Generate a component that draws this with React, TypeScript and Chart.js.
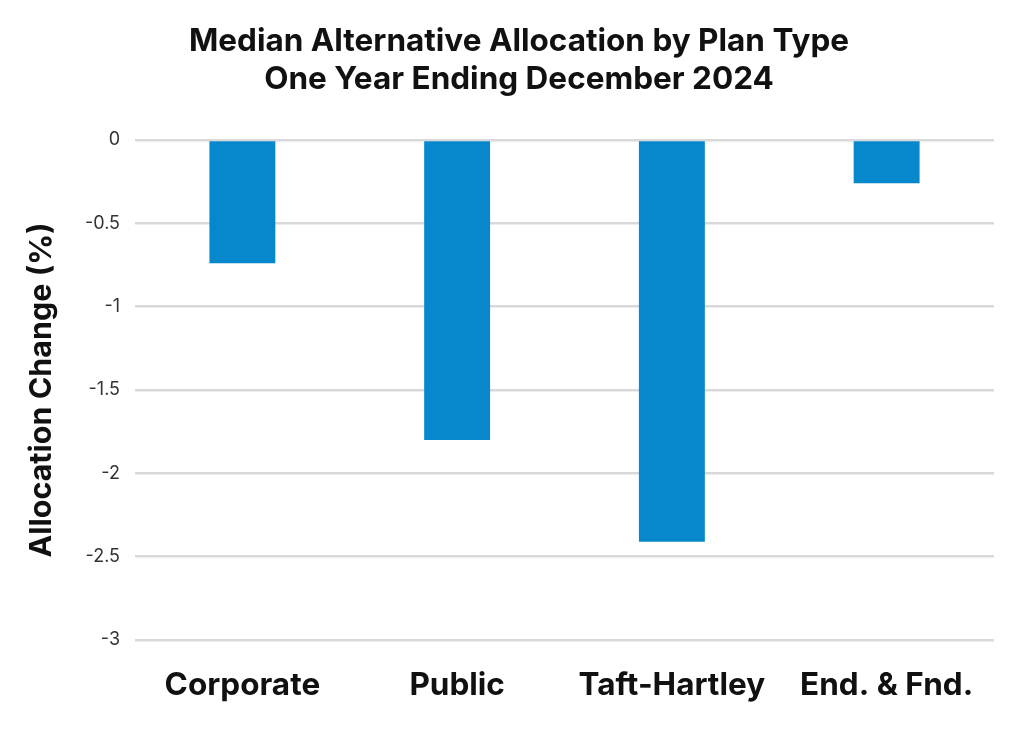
import React, { useEffect, useRef } from "react";
import { Chart, registerables } from "chart.js";

Chart.register(...registerables);

const categories = ["Corporate", "Public", "Taft-Hartley", "End. & Fnd."];
const allocationChange = [-0.74, -1.8, -2.41, -0.26];
const titleLines = ["Median Alternative Allocation by Plan Type", "One Year Ending December 2024"];
const yAxisTitle = "Allocation Change (%)";

const FONT = "Inter, 'Noto Sans', sans-serif";

export default function App() {
  const ref = useRef<HTMLCanvasElement | null>(null);
  useEffect(() => {
    if (!ref.current) return;
    const chart = new Chart(ref.current, {
      type: "bar",
      data: {
        labels: categories,
        datasets: [
          {
            data: allocationChange,
            backgroundColor: "#0788cc",
            borderWidth: 0,
            categoryPercentage: 1,
            barPercentage: 0.307,
          },
        ],
      },
      options: {
        animation: false,
        responsive: true,
        maintainAspectRatio: false,
        layout: { padding: { left: 44, right: 30, top: 23, bottom: 0 } },
        plugins: {
          legend: { display: false },
          tooltip: { enabled: false },
          title: {
            display: true,
            text: titleLines,
            color: "#111",
            font: { family: FONT, size: 31.5, weight: "bold", lineHeight: 1.206 },
            padding: { top: 0, bottom: 41 },
          },
        },
        scales: {
          x: {
            grid: { display: false, drawTicks: false },
            border: { display: false },
            ticks: {
              color: "#111",
              padding: 27,
              font: { family: FONT, size: 31.5, weight: "bold" },
            },
            afterFit: (s: any) => {
              s.height = 93;
            },
          },
          y: {
            min: -3,
            max: 0,
            border: { display: false },
            grid: { color: "#d9d9d9", lineWidth: 2.5, drawTicks: false },
            ticks: {
              stepSize: 0.5,
              color: "#333",
              padding: 15,
              font: { family: FONT, size: 18 },
              callback: (v: any) => String(v),
            },
            title: {
              display: true,
              text: yAxisTitle,
              color: "#111",
              font: { family: FONT, size: 30.5, weight: "bold" },
              padding: { top: -20, bottom: 0 },
            },
            afterFit: (s: any) => {
              s.width = 91;
            },
          },
        },
      },
    });
    return () => chart.destroy();
  }, []);
  return (
    <div style={{ position: "fixed", left: 0, top: 0, width: 1024, height: 733, background: "#fff" }}>
      <canvas ref={ref} />
    </div>
  );
}
